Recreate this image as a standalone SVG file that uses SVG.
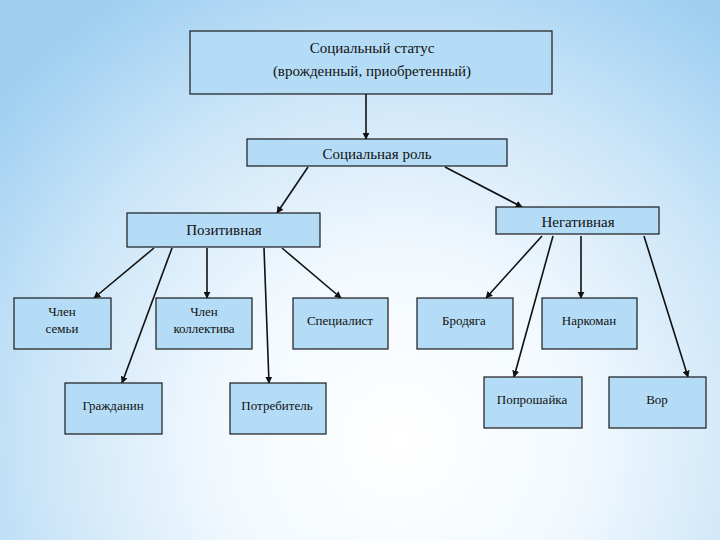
<svg xmlns="http://www.w3.org/2000/svg" width="720" height="540" viewBox="0 0 720 540">
  <defs>
    <radialGradient id="bg" cx="400" cy="440" r="520" gradientUnits="userSpaceOnUse">
      <stop offset="0" stop-color="#ffffff"/>
      <stop offset="0.35" stop-color="#f2f9fe"/>
      <stop offset="0.7" stop-color="#cbe5f8"/>
      <stop offset="1" stop-color="#9fd0f1"/>
    </radialGradient>
    <marker id="arr" viewBox="0 0 10 10" refX="9" refY="5" markerWidth="7" markerHeight="7" markerUnits="userSpaceOnUse" orient="auto">
      <path d="M0,0 L10,5 L0,10 z" fill="#111"/>
    </marker>
    <style>
      .box { fill: #b5dcf6; stroke: #1a1a1a; stroke-width: 1.2; }
      .t { font-family: "Liberation Serif", "DejaVu Serif", serif; fill: #111; text-anchor: middle; }
      .big { font-size: 15px; }
      .mid { font-size: 15px; }
      .sm { font-size: 13px; }
      .c line { stroke: #111; stroke-width: 1.6; marker-end: url(#arr); }
    </style>
  </defs>
  <rect x="0" y="0" width="720" height="540" fill="url(#bg)"/>

  <g class="c" id="connectors">
    <line x1="366" y1="94" x2="366" y2="139"/>
    <line x1="308" y1="167" x2="277" y2="213"/>
    <line x1="445" y1="167" x2="522" y2="207"/>
    <line x1="154" y1="248" x2="94" y2="298"/>
    <line x1="172" y1="248" x2="122" y2="383"/>
    <line x1="207" y1="248" x2="207" y2="298"/>
    <line x1="264" y1="248" x2="269" y2="383"/>
    <line x1="282" y1="248" x2="341" y2="298"/>
    <line x1="542" y1="236" x2="486" y2="298"/>
    <line x1="553" y1="236" x2="514" y2="377"/>
    <line x1="581" y1="236" x2="581" y2="298"/>
    <line x1="644" y1="236" x2="688" y2="377"/>
  </g>

  <g id="status">
    <rect class="box" x="190" y="31" width="362" height="63"/>
    <text class="t big" x="372" y="53">Социальный статус</text>
    <text class="t big" x="372" y="76">(врожденный, приобретенный)</text>
  </g>
  <g id="role">
    <rect class="box" x="247" y="139" width="260" height="27"/>
    <text class="t big" x="377" y="159">Социальная роль</text>
  </g>
  <g id="positive">
    <rect class="box" x="127" y="213" width="193" height="34"/>
    <text class="t mid" x="224" y="235">Позитивная</text>
  </g>
  <g id="negative">
    <rect class="box" x="496" y="207" width="163" height="27"/>
    <text class="t mid" x="578" y="227">Негативная</text>
  </g>
  <g id="family">
    <rect class="box" x="14" y="298" width="97" height="51"/>
    <text class="t sm" x="62" y="316">Член</text>
    <text class="t sm" x="62" y="333">семьи</text>
  </g>
  <g id="collective">
    <rect class="box" x="156" y="298" width="96" height="51"/>
    <text class="t sm" x="204" y="316">Член</text>
    <text class="t sm" x="204" y="333">коллектива</text>
  </g>
  <g id="specialist">
    <rect class="box" x="293" y="298" width="95" height="51"/>
    <text class="t sm" x="340" y="325">Специалист</text>
  </g>
  <g id="tramp">
    <rect class="box" x="417" y="298" width="96" height="51"/>
    <text class="t sm" x="464" y="325">Бродяга</text>
  </g>
  <g id="addict">
    <rect class="box" x="542" y="298" width="95" height="51"/>
    <text class="t sm" x="589" y="325">Наркоман</text>
  </g>
  <g id="citizen">
    <rect class="box" x="65" y="383" width="97" height="51"/>
    <text class="t sm" x="113" y="410">Гражданин</text>
  </g>
  <g id="consumer">
    <rect class="box" x="230" y="383" width="96" height="51"/>
    <text class="t sm" x="277" y="410">Потребитель</text>
  </g>
  <g id="beggar">
    <rect class="box" x="484" y="377" width="98" height="51"/>
    <text class="t sm" x="532" y="404">Попрошайка</text>
  </g>
  <g id="thief">
    <rect class="box" x="609" y="377" width="97" height="51"/>
    <text class="t sm" x="657" y="404">Вор</text>
  </g>
</svg>
